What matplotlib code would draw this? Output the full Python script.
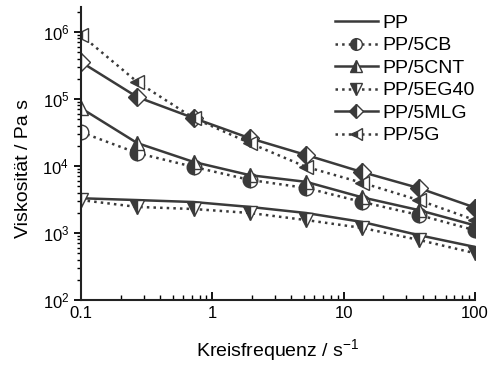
import numpy as np
import matplotlib
matplotlib.use("Agg")
import matplotlib.pyplot as plt
from matplotlib.ticker import FixedLocator, FixedFormatter, LogLocator, NullFormatter

plt.rcParams['font.family'] = ['Liberation Sans', 'DejaVu Sans']
plt.rcParams['mathtext.default'] = 'regular'

# Kreisfrequenz (rad/s)
freq = [0.1, 0.268, 0.72, 1.93, 5.18, 13.9, 37.3, 100]

# Viskosität (Pa s)
pp = [3300, 3100, 2900, 2450, 1990, 1460, 930, 620]
pp_5cb = [32000, 15600, 9700, 6200, 4700, 2900, 1860, 1100]
pp_5cnt = [73000, 22000, 11500, 7300, 5800, 3400, 2200, 1300]
pp_5eg40 = [3100, 2450, 2280, 1990, 1560, 1190, 790, 500]
pp_5mlg = [356000, 107000, 52000, 26000, 14600, 8100, 4700, 2400]
pp_5g = [900000, 180000, 52000, 22000, 9700, 5600, 3100, 1560]

col = '#3a3a3a'

fig = plt.figure(figsize=(4.91, 3.69), dpi=100)
ax = fig.add_axes([0.165, 0.187, 0.802, 0.794])

common = dict(color=col, markersize=10.5, markeredgecolor=col, markeredgewidth=1.0,
              fillstyle='left', markerfacecolor=col, markerfacecoloralt='white')

ax.plot(freq, pp, '-', color=col, lw=1.8, label='PP')
ax.plot(freq, pp_5cb, ':', marker='o', lw=1.8, label='PP/5CB', **common)
ax.plot(freq, pp_5cnt, '-', marker='^', lw=1.8, label='PP/5CNT', **common)
ax.plot(freq, pp_5eg40, ':', marker='v', lw=1.8, label='PP/5EG40', **common)
ax.plot(freq, pp_5mlg, '-', marker='D', lw=1.8, label='PP/5MLG',
        **{**common, 'markersize': 9})
ax.plot(freq, pp_5g, ':', marker='<', lw=1.8, label='PP/5G', **common)

ax.set_xscale('log')
ax.set_yscale('log')
ax.set_xlim(0.1, 100)
ax.set_ylim(100, 2.36e6)

ax.xaxis.set_major_locator(FixedLocator([0.1, 1, 10, 100]))
ax.xaxis.set_major_formatter(FixedFormatter(['0.1', '1', '10', '100']))
ax.xaxis.set_minor_locator(LogLocator(base=10, subs=np.arange(2, 10)))
ax.xaxis.set_minor_formatter(NullFormatter())
ax.yaxis.set_minor_locator(LogLocator(base=10, subs=np.arange(2, 10), numticks=20))
ax.yaxis.set_minor_formatter(NullFormatter())

for s in ['top', 'right']:
    ax.spines[s].set_visible(False)
for s in ['left', 'bottom']:
    ax.spines[s].set_linewidth(1.5)
    ax.spines[s].set_color('#222222')

ax.tick_params(axis='x', which='major', direction='in', length=6, width=1.3, labelsize=12, pad=4)
ax.tick_params(axis='x', which='minor', direction='in', length=3.5, width=1.0)
ax.tick_params(axis='y', which='major', direction='out', length=5, width=1.3, labelsize=12)
ax.tick_params(axis='y', which='minor', direction='out', length=3, width=1.0)

ax.set_xlabel('Kreisfrequenz / s$^{-1}$', fontsize=14, labelpad=12)
ax.set_ylabel('Viskosität / Pa s', fontsize=14)
ax.yaxis.set_label_coords(-0.125, 0.45)

ax.legend(loc='upper left', frameon=False, fontsize=14, numpoints=1, markerscale=0.8,
          handlelength=2.2, handletextpad=0.25, labelspacing=0.25,
          borderaxespad=0.0, borderpad=0.0, bbox_to_anchor=(0.645, 0.975))

fig.savefig('out.png', dpi=100)
